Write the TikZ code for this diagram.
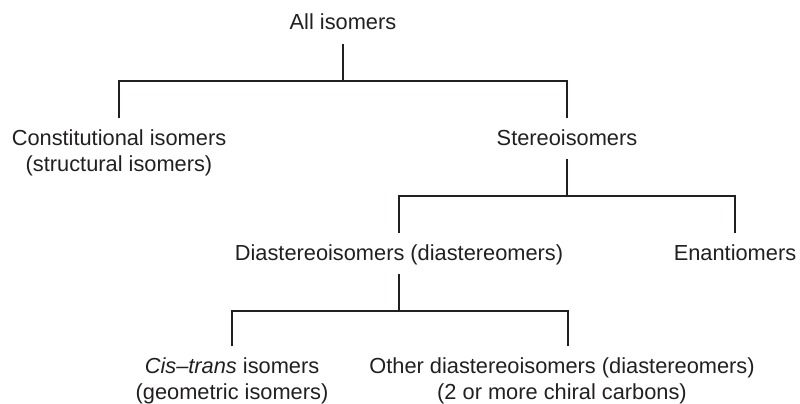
\documentclass[tikz,border=0pt]{standalone}
\usepackage{fontspec}
\setmainfont{Liberation Sans}
\definecolor{ink}{HTML}{231F20}
\newcommand{\twolines}[2]{\begin{tabular}[t]{@{}c@{}}#1\\#2\end{tabular}}
\begin{document}
\begin{tikzpicture}[x=1pt,y=-1pt,
  lbl/.style={anchor=base, inner xsep=0pt, inner ysep=11pt, outer sep=0pt,
    text height=16pt, text depth=3pt,
    font=\fontsize{21.8}{26.5}\selectfont, text=ink},
  conn/.style={draw=ink, line width=2pt}]
\useasboundingbox (0,0) rectangle (800,404);

\node[lbl] (all) at (343,30) {All isomers};
\node[lbl] (const) at (119,145) {\twolines{Constitutional isomers}{(structural isomers)}};
\node[lbl] (stereo) at (567,145) {Stereoisomers};
\node[lbl] (dia) at (399,260) {Diastereoisomers (diastereomers)};
\node[lbl] (enan) at (735,260) {Enantiomers};
\node[lbl] (cis) at (232,373) {\twolines{\textit{Cis–trans} isomers}{(geometric isomers)}};
\node[lbl] (other) at (562,373) {\twolines{Other diastereoisomers (diastereomers)}{(2 or more chiral carbons)}};

\coordinate (j1) at (343,81);
\coordinate (j2) at (567,196);
\coordinate (j3) at (399,311);

\draw[conn] (all.south) -- (j1);
\draw[conn] (const.north) |- (j1) -| (stereo.north);
\draw[conn] (stereo.south) -- (j2);
\draw[conn] (dia.north) |- (j2) -| (enan.north);
\draw[conn] (dia.south) -- (j3);
\draw[conn] (cis.north) |- (j3) -| ([xshift=6pt]other.north);
\end{tikzpicture}
\end{document}
